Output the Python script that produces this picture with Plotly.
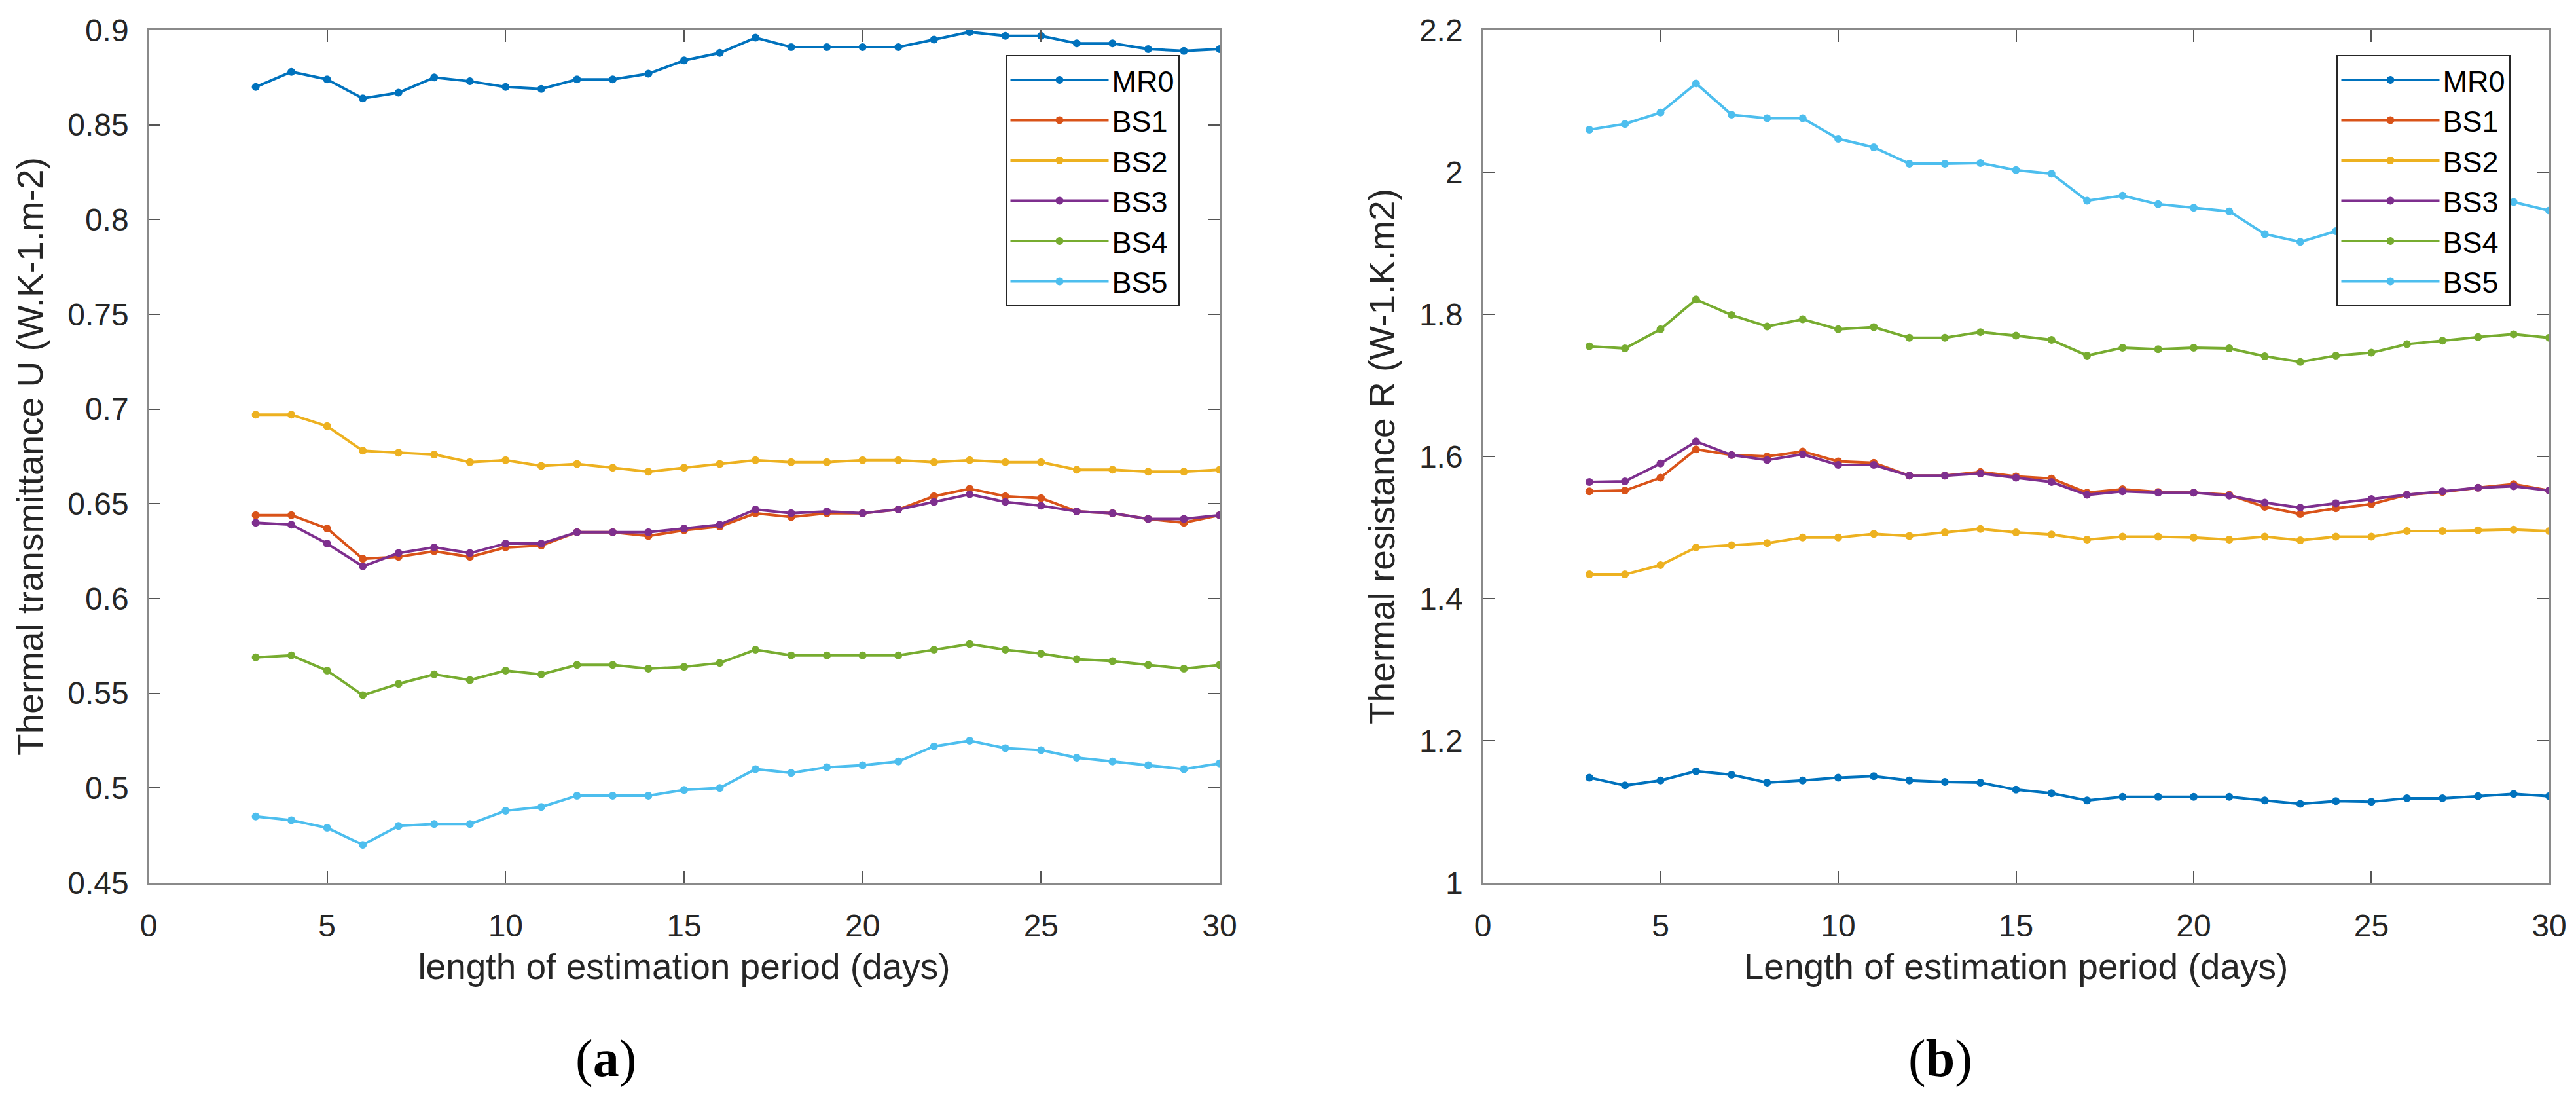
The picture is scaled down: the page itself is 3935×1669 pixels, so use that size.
import plotly.graph_objects as go

days = list(range(3, 31))
series_names = ["MR0", "BS1", "BS2", "BS3", "BS4", "BS5"]
colors = ["#0072BD", "#D95319", "#EDB120", "#7E2F8E", "#77AC30", "#4DBEEE"]

# Panel (a): thermal transmittance U
u_mr0 = [0.870, 0.878, 0.874, 0.864, 0.867, 0.875, 0.873, 0.870, 0.869, 0.874, 0.874, 0.877, 0.884, 0.888,
         0.896, 0.891, 0.891, 0.891, 0.891, 0.895, 0.899, 0.897, 0.897, 0.893, 0.893, 0.890, 0.889, 0.890]
u_bs1 = [0.644, 0.644, 0.637, 0.621, 0.622, 0.625, 0.622, 0.627, 0.628, 0.635, 0.635, 0.633, 0.636, 0.638,
         0.645, 0.643, 0.645, 0.645, 0.647, 0.654, 0.658, 0.654, 0.653, 0.646, 0.645, 0.642, 0.640, 0.644]
u_bs2 = [0.697, 0.697, 0.691, 0.678, 0.677, 0.676, 0.672, 0.673, 0.670, 0.671, 0.669, 0.667, 0.669, 0.671,
         0.673, 0.672, 0.672, 0.673, 0.673, 0.672, 0.673, 0.672, 0.672, 0.668, 0.668, 0.667, 0.667, 0.668]
u_bs3 = [0.640, 0.639, 0.629, 0.617, 0.624, 0.627, 0.624, 0.629, 0.629, 0.635, 0.635, 0.635, 0.637, 0.639,
         0.647, 0.645, 0.646, 0.645, 0.647, 0.651, 0.655, 0.651, 0.649, 0.646, 0.645, 0.642, 0.642, 0.644]
u_bs4 = [0.569, 0.570, 0.562, 0.549, 0.555, 0.560, 0.557, 0.562, 0.560, 0.565, 0.565, 0.563, 0.564, 0.566,
         0.573, 0.570, 0.570, 0.570, 0.570, 0.573, 0.576, 0.573, 0.571, 0.568, 0.567, 0.565, 0.563, 0.565]
u_bs5 = [0.485, 0.483, 0.479, 0.470, 0.480, 0.481, 0.481, 0.488, 0.490, 0.496, 0.496, 0.496, 0.499, 0.500,
         0.510, 0.508, 0.511, 0.512, 0.514, 0.522, 0.525, 0.521, 0.520, 0.516, 0.514, 0.512, 0.510, 0.513]

# Panel (b): thermal resistance R
r_mr0 = [1.148, 1.137, 1.144, 1.157, 1.152, 1.141, 1.144, 1.148, 1.150, 1.144, 1.142, 1.141, 1.131, 1.126,
         1.116, 1.121, 1.121, 1.121, 1.121, 1.116, 1.111, 1.115, 1.114, 1.119, 1.119, 1.122, 1.125, 1.122]
r_bs1 = [1.551, 1.552, 1.570, 1.610, 1.602, 1.600, 1.607, 1.593, 1.591, 1.573, 1.573, 1.578, 1.572, 1.569,
         1.549, 1.554, 1.550, 1.549, 1.546, 1.529, 1.519, 1.527, 1.533, 1.546, 1.550, 1.556, 1.561, 1.552]
r_bs2 = [1.434, 1.434, 1.447, 1.472, 1.475, 1.478, 1.486, 1.486, 1.491, 1.488, 1.493, 1.498, 1.493, 1.490,
         1.483, 1.487, 1.487, 1.486, 1.483, 1.487, 1.482, 1.487, 1.487, 1.495, 1.495, 1.496, 1.497, 1.495]
r_bs3 = [1.564, 1.565, 1.590, 1.621, 1.602, 1.595, 1.603, 1.588, 1.588, 1.573, 1.573, 1.576, 1.570, 1.564,
         1.546, 1.551, 1.549, 1.549, 1.545, 1.535, 1.528, 1.534, 1.540, 1.546, 1.551, 1.556, 1.558, 1.552]
r_bs4 = [1.755, 1.752, 1.779, 1.821, 1.799, 1.783, 1.793, 1.779, 1.782, 1.767, 1.767, 1.775, 1.770, 1.764,
         1.742, 1.753, 1.751, 1.753, 1.752, 1.741, 1.733, 1.742, 1.746, 1.758, 1.763, 1.768, 1.772, 1.767]
r_bs5 = [2.060, 2.068, 2.084, 2.125, 2.081, 2.076, 2.076, 2.047, 2.035, 2.012, 2.012, 2.013, 2.003, 1.998,
         1.960, 1.967, 1.955, 1.950, 1.945, 1.913, 1.902, 1.917, 1.925, 1.935, 1.945, 1.953, 1.958, 1.946]

x_ticks = [0, 5, 10, 15, 20, 25, 30]
u_ticks = [0.45, 0.5, 0.55, 0.6, 0.65, 0.7, 0.75, 0.8, 0.85, 0.9]
r_ticks = [1, 1.2, 1.4, 1.6, 1.8, 2, 2.2]

u_series = [u_mr0, u_bs1, u_bs2, u_bs3, u_bs4, u_bs5]
r_series = [r_mr0, r_bs1, r_bs2, r_bs3, r_bs4, r_bs5]

FONT = "Liberation Sans"
TXT = "#262626"
AXC = "#8a8a8a"

fig = go.Figure()
for name, col, vals in zip(series_names, colors, u_series):
    fig.add_trace(go.Scatter(x=days, y=vals, name=name, mode="lines+markers",
                             line=dict(color=col, width=4), marker=dict(color=col, size=12),
                             xaxis="x", yaxis="y", legend="legend"))
for name, col, vals in zip(series_names, colors, r_series):
    fig.add_trace(go.Scatter(x=days, y=vals, name=name, mode="lines+markers",
                             line=dict(color=col, width=4), marker=dict(color=col, size=12),
                             xaxis="x2", yaxis="y2", legend="legend2"))

axis_common = dict(showline=True, linecolor=AXC, linewidth=2.5, mirror="ticks",
                   ticks="inside", ticklen=18, tickwidth=2, tickcolor="#555555",
                   showgrid=False, zeroline=False,
                   tickfont=dict(family=FONT, size=48, color=TXT))

legend_common = dict(bgcolor="white", bordercolor=TXT, borderwidth=2.5,
                     font=dict(family=FONT, size=45, color="black"),
                     xanchor="left", yanchor="top", itemwidth=150, tracegroupgap=0)

fig.update_layout(
    width=3935, height=1669,
    margin=dict(l=219, r=49, t=33, b=329),
    paper_bgcolor="white", plot_bgcolor="white",
    xaxis=dict(domain=[0, 0.44614], range=[0, 30], tickvals=x_ticks, anchor="y",
               ticklabelstandoff=22,
               title=dict(text="length of estimation period (days)",
                          font=dict(family=FONT, size=55, color=TXT), standoff=18),
               **axis_common),
    yaxis=dict(domain=[0, 1], range=[0.45, 0.9], tickvals=u_ticks, anchor="x",
               ticklabelstandoff=18,
               title=dict(text="Thermal transmittance U (W.K-1.m-2)",
                          font=dict(family=FONT, size=55, color=TXT), standoff=20),
               **axis_common),
    xaxis2=dict(domain=[0.55577, 1], range=[0, 30], tickvals=x_ticks, anchor="y2",
                ticklabelstandoff=22,
                title=dict(text="Length of estimation period (days)",
                           font=dict(family=FONT, size=55, color=TXT), standoff=18),
                **axis_common),
    yaxis2=dict(domain=[0, 1], range=[1, 2.2], tickvals=r_ticks, anchor="x2",
                ticklabelstandoff=18,
                title=dict(text="Thermal resistance R (W-1.K.m2)",
                           font=dict(family=FONT, size=55, color=TXT), standoff=20),
                **axis_common),
    legend=dict(x=0.35697, y=0.97093, **legend_common),
    legend2=dict(x=0.91137, y=0.97093, **legend_common),
    annotations=[
        dict(text="(<b>a</b>)", xref="paper", yref="paper", x=(917 - 219) / 3667, y=(1340 - 1610) / 1307,
             xanchor="center", yanchor="middle", showarrow=False,
             font=dict(family="Liberation Serif", size=80, color="black")),
        dict(text="(<b>b</b>)", xref="paper", yref="paper", x=(2956 - 219) / 3667, y=(1340 - 1610) / 1307,
             xanchor="center", yanchor="middle", showarrow=False,
             font=dict(family="Liberation Serif", size=80, color="black")),
    ],
)

fig.write_html("out.html")
